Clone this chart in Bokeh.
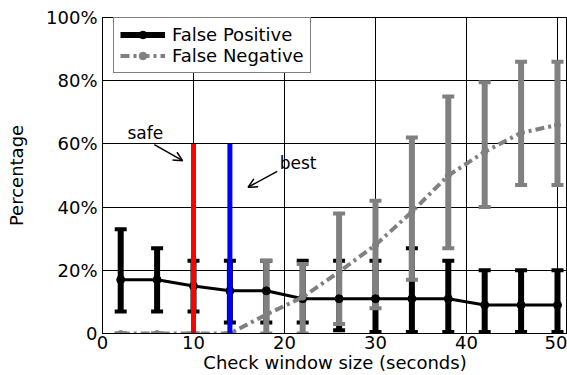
from bokeh.plotting import figure
from bokeh.models import (ColumnDataSource, Legend, LegendItem, Arrow, OpenHead,
                          Label, FixedTicker)
from bokeh.embed import file_html
from bokeh.resources import INLINE

# ---- data ----
window = [2, 6, 10, 14, 18, 22, 26, 30, 34, 38, 42, 46, 50]
fp_mean = [17, 17, 15, 13.5, 13.5, 11, 11, 11, 11, 11, 9, 9, 9]
fp_low = [7, 7, 7, 3.5, 3.5, 3.5, 1, 0.5, 0.5, 0.5, 0.5, 0.5, 0.5]
fp_high = [33, 27, 23, 23, 23, 23, 23, 23, 27, 23, 20, 20, 20]
fn_mean = [0, 0, 0, 0, 6, 11.5, 19.5, 28, 38.5, 50, 57.5, 63.5, 66]
fn_low = [0, 0, 0, 0, 0, 0, 3, 8, 17, 27, 40, 47, 47]
fn_high = [0, 0, 0, 0, 23, 22, 38, 42, 62, 75, 79.5, 86, 86]
safe_x = [10]
best_x = [14]
marker_range = [0, 60]
x_ticks = [0, 10, 20, 30, 40, 50]
y_ticks = [0, 20, 40, 60, 80, 100]
y_labels = ["0", "20%", "40%", "60%", "80%", "100%"]

FONT = "DejaVu Sans"
GRAY = "#808080"

src = ColumnDataSource(dict(x=window, fp=fp_mean, fpl=fp_low, fph=fp_high,
                            fn=fn_mean, fnl=fn_low, fnh=fn_high))

p = figure(width=567, height=375, output_backend="svg", toolbar_location=None,
           x_range=(0, 51.1), y_range=(0, 100),
           min_border_left=102, min_border_right=0, min_border_top=17,
           min_border_bottom=42)
p.background_fill_color = "white"
p.border_fill_color = "white"
p.outline_line_color = "black"
p.outline_line_width = 1

# grid
for g in (p.xgrid, p.ygrid):
    g.grid_line_color = "black"
    g.grid_line_alpha = 1
    g.grid_line_width = 1
p.xaxis.ticker = FixedTicker(ticks=x_ticks)
p.yaxis.ticker = FixedTicker(ticks=y_ticks)
p.yaxis.major_label_overrides = {t: l for t, l in zip(y_ticks, y_labels)}

for ax in (p.xaxis, p.yaxis):
    ax.major_tick_in = 4
    ax.major_tick_out = 0
    ax.minor_tick_line_color = None
    ax.axis_line_color = "black"
    ax.major_label_text_font = FONT
    ax.major_label_text_font_size = "18px"
    ax.major_label_text_color = "black"
    ax.axis_label_text_font = FONT
    ax.axis_label_text_font_size = "18px"
    ax.axis_label_text_font_style = "normal"
    ax.axis_label_text_color = "black"
p.xaxis.axis_label = "Check window size (seconds)"
p.yaxis.axis_label = "Percentage"
p.xaxis.major_label_standoff = 2
p.xaxis.axis_label_standoff = 0
p.yaxis.major_label_standoff = 5
p.yaxis.axis_label_standoff = 16

# error bars: false positive (black)
fp_bar = p.segment(x0="x", y0="fpl", x1="x", y1="fph", source=src, line_color="black", line_width=6)
p.scatter(x="x", y="fpl", source=src, marker="dash", size=12, line_width=4, line_color="black")
p.scatter(x="x", y="fph", source=src, marker="dash", size=12, line_width=4, line_color="black")

# error bars: false negative (gray)
p.segment(x0="x", y0="fnl", x1="x", y1="fnh", source=src, line_color=GRAY, line_width=6)
p.scatter(x="x", y="fnl", source=src, marker="dash", size=12, line_width=4, line_color=GRAY)
p.scatter(x="x", y="fnh", source=src, marker="dash", size=12, line_width=4, line_color=GRAY)

# mean lines
p.line(x="x", y="fp", source=src, line_color="black", line_width=3)
fp_pts = p.scatter(x="x", y="fp", source=src, marker="circle", size=8, fill_color="black", line_color="black")
fn_line = p.line(x="x", y="fn", source=src, line_color=GRAY, line_width=4, line_dash="9 4 3 4")
fn_pts = p.scatter(x="x", y="fn", source=src, marker="circle", size=6, fill_color=GRAY, line_color=GRAY)

# safe / best markers
p.segment(x0=safe_x, y0=[marker_range[0]], x1=safe_x, y1=[marker_range[1]],
          line_color="red", line_width=5)
p.segment(x0=best_x, y0=[marker_range[0]], x1=best_x, y1=[marker_range[1]],
          line_color="blue", line_width=5)

# annotations
p.add_layout(Label(x=4.7, y=63.3, text="safe", text_align="center", text_baseline="middle",
                   text_font=FONT, text_font_size="17px", text_color="black"))
p.add_layout(Arrow(end=OpenHead(size=9, line_width=1.5), x_start=5.7, y_start=59.8,
                   x_end=8.8, y_end=54.7, line_width=1.5, line_color="black"))
p.add_layout(Label(x=21.5, y=54.1, text="best", text_align="center", text_baseline="middle",
                   text_font=FONT, text_font_size="17px", text_color="black"))
p.add_layout(Arrow(end=OpenHead(size=9, line_width=1.5), x_start=19.2, y_start=51.3,
                   x_end=16.0, y_end=46.3, line_width=1.5, line_color="black"))

legend = Legend(items=[LegendItem(label="False Positive", renderers=[fp_bar, fp_pts]),
                       LegendItem(label="False Negative", renderers=[fn_line, fn_pts])],
                location=(11, 260), padding=6, spacing=0, margin=0,
                label_height=19, glyph_height=19, glyph_width=45, label_standoff=7,
                label_text_font=FONT, label_text_font_size="18px", label_text_color="black",
                border_line_color="black", border_line_width=1,
                background_fill_color="white", background_fill_alpha=1)
p.add_layout(legend)

open("out.html", "w").write(file_html(p, INLINE))
